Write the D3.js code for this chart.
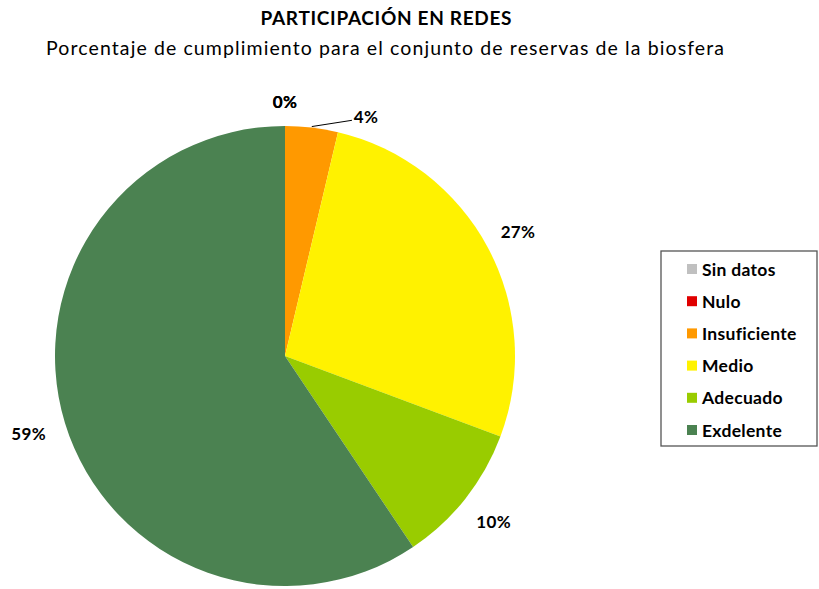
<!DOCTYPE html>
<html>
<head>
<meta charset="utf-8">
<script src="https://d3js.org/d3.v7.min.js"></script>
<style>
    body { margin: 0; background: #fff; }
    text { font-family: Lato, "Liberation Sans", sans-serif; }
</style>
</head>
<body>
<svg id="chart" width="819" height="589"></svg>
<script>
    // data
    const categories = ["Sin datos", "Nulo", "Insuficiente", "Medio", "Adecuado", "Exdelente"];
    const values = [0, 0, 3.7, 27.0, 9.9, 59.4];
    const labels = ["0%", "0%", "4%", "27%", "10%", "59%"];
    const colors = ["#c0c0c0", "#e00000", "#ff9900", "#fff200", "#99cc00", "#4b8251"];

    const svg = d3.select("svg#chart");
    const cx = 285, cy = 356, radius = 230;

    svg.append("text")
       .attr("x", 386).attr("y", 25)
       .attr("text-anchor", "middle")
       .attr("font-weight", "bold")
       .attr("font-size", 19)
       .attr("textLength", 251)
       .attr("lengthAdjust", "spacing")
       .text("PARTICIPACIÓN EN REDES");

    svg.append("text")
       .attr("x", 385).attr("y", 55)
       .attr("text-anchor", "middle")
       .attr("font-size", 19.5)
       .attr("textLength", 678)
       .attr("lengthAdjust", "spacing")
       .text("Porcentaje de cumplimiento para el conjunto de reservas de la biosfera");

    const data = categories.map((c, i) => ({cat: c, value: values[i], label: labels[i], color: colors[i]}));

    const pie = d3.pie().sort(null).value(d => d.value);
    const arcs = pie(data);
    const arc = d3.arc().innerRadius(0).outerRadius(radius);

    const chartArea = svg.append("g")
                         .attr("transform", `translate(${cx}, ${cy})`);

    chartArea.selectAll("path")
             .data(arcs)
             .enter()
             .append("path")
             .attr("d", arc)
             .attr("fill", d => d.data.color);

    // label placement: radius and extra angle (deg) per slice, small slice pushed aside
    const labelR = [255, 255, 253, 264, 266, 268];
    const labelShift = [0, 0, 12, 0, 0, 0];

    arcs.forEach((a, i) => {
        let mid = (a.startAngle + a.endAngle) / 2;
        let ang = mid + labelShift[i] * Math.PI / 180;
        let lx = labelR[i] * Math.sin(ang);
        let ly = -labelR[i] * Math.cos(ang);
        if (labelShift[i] != 0) {
            chartArea.append("line")
                     .attr("x1", (radius + 1) * Math.sin(mid))
                     .attr("y1", -(radius + 1) * Math.cos(mid))
                     .attr("x2", lx - 14)
                     .attr("y2", ly + 4)
                     .attr("stroke", "#000")
                     .attr("stroke-width", 1);
        }
        chartArea.append("text")
                 .attr("x", lx).attr("y", ly)
                 .attr("text-anchor", "middle")
                 .attr("dominant-baseline", "central")
                 .attr("font-weight", "bold")
                 .attr("font-size", 17)
                 .attr("letter-spacing", 0.3)
                 .text(a.data.label);
    });

    // legend
    const legend = svg.append("g").attr("transform", "translate(661, 251)");
    legend.append("rect")
          .attr("width", 156).attr("height", 195)
          .attr("fill", "#fff")
          .attr("stroke", "#555")
          .attr("stroke-width", 1.3);

    const rowY = d3.scaleLinear().domain([0, categories.length - 1]).range([18, 179]);

    categories.forEach((c, i) => {
        legend.append("rect")
              .attr("x", 26).attr("y", rowY(i) - 5)
              .attr("width", 10).attr("height", 10)
              .attr("fill", colors[i]);
        legend.append("text")
              .attr("x", 41).attr("y", rowY(i))
              .attr("dominant-baseline", "central")
              .attr("font-weight", "bold")
              .attr("font-size", 17.5)
              .attr("letter-spacing", 0.3)
              .text(c);
    });
</script>
</body>
</html>
